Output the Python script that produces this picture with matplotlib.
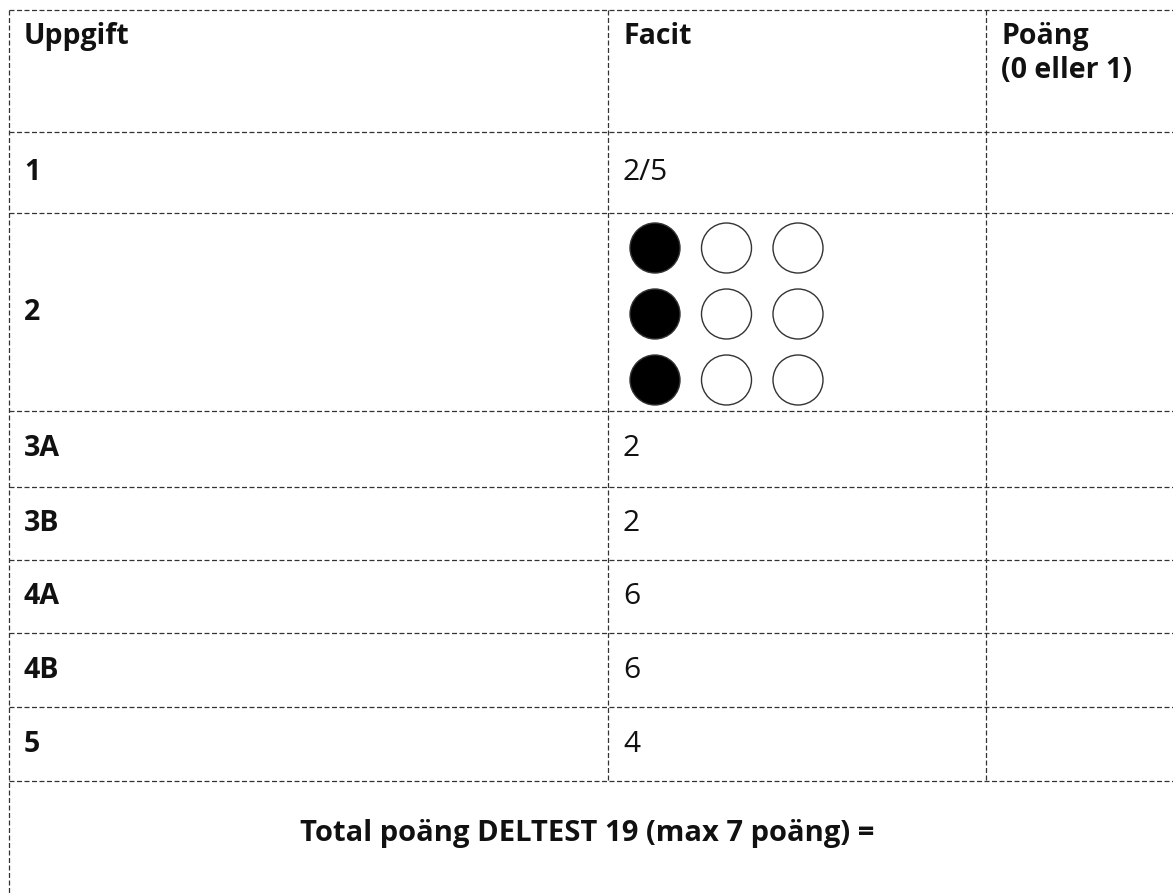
import matplotlib
matplotlib.use("Agg")
import matplotlib.pyplot as plt
from matplotlib.patches import Circle

# ---- data ----
headers = ["Uppgift", "Facit", "Poäng\n(0 eller 1)"]
tasks = ["1", "2", "3A", "3B", "4A", "4B", "5"]
answers = ["2/5", None, "2", "2", "6", "6", "4"]
# dot grid for task 2: rows x columns, 1 = filled, 0 = empty
dot_grid = [[1, 0, 0],
            [1, 0, 0],
            [1, 0, 0]]
total_label = "Total poäng DELTEST 19 (max 7 poäng) ="

# ---- layout (pixel space) ----
W, H = 1173, 894
FONT = "Open Sans"
fig = plt.figure(figsize=(W / 100, H / 100), dpi=100)
ax = fig.add_axes([0, 0, 1, 1])
ax.set_xlim(0, W)
ax.set_ylim(H, 0)
ax.axis("off")

left, right = 9, 1180
col_x = [608, 986]
top = 10
row_lines = [132, 213, 411, 487, 560, 633, 707, 781]
bottom = 900
line_kw = dict(color="#333333", lw=0.9, linestyle=(0, (4, 2)))

for y in [top] + row_lines:
    ax.plot([left, right], [y, y], **line_kw)
ax.plot([left, left], [top, bottom], **line_kw)
for cx in col_x:
    ax.plot([cx, cx], [top, row_lines[-1]], **line_kw)

fs = 20.5
fs_ans = 21.5
pad = 15
col_left = [left, col_x[0], col_x[1]]
txt_color = "#111111"

for i, h in enumerate(headers):
    ax.text(col_left[i] + pad, 22, h, fontsize=fs, fontweight="bold",
            family=FONT, va="top", ha="left", color=txt_color, linespacing=1.25)

bounds = row_lines
for i, t in enumerate(tasks):
    y0, y1 = bounds[i], bounds[i + 1]
    yc = (y0 + y1) / 2
    ax.text(left + pad, yc, t, fontsize=fs, fontweight="bold", family=FONT,
            va="center", ha="left", color=txt_color)
    a = answers[i]
    if a is not None:
        ax.text(col_x[0] + pad, yc, a, fontsize=fs_ans, family=FONT,
                va="center", ha="left", color=txt_color)
    else:
        nrow = len(dot_grid)
        step = (y1 - y0) / nrow
        for r, row in enumerate(dot_grid):
            for c, v in enumerate(row):
                cx = col_x[0] + 47 + c * 71.5
                cy = y0 + step * (r + 0.5) + 2
                ax.add_patch(Circle((cx, cy), 25,
                                    facecolor="black" if v else "white",
                                    edgecolor="#333333", lw=1.0))

ax.text((left + 1165) / 2, row_lines[-1] + 52, total_label, fontsize=21,
        fontweight="bold", family=FONT, va="center", ha="center", color=txt_color)

fig.savefig("out.png", dpi=100)
